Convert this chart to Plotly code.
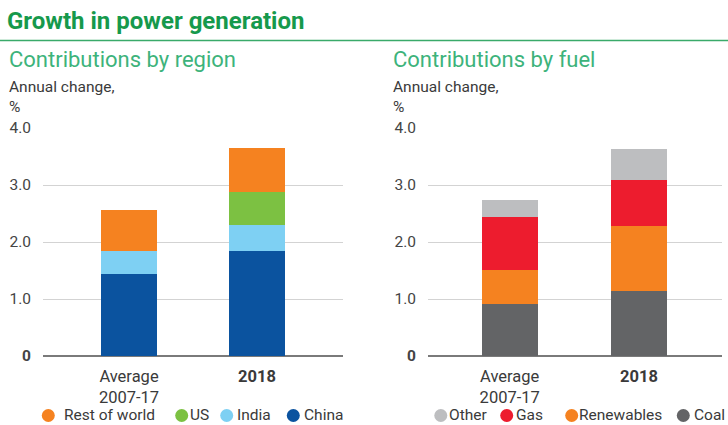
import plotly.graph_objects as go

# ---- data ----
categories = ["Average<br>2007-17", "<b>2018</b>"]

region_names = ["China", "India", "US", "Rest of world"]
china = [1.44, 1.85]
india = [0.40, 0.44]
us = [0.00, 0.58]
rest_of_world = [0.73, 0.78]

fuel_names = ["Coal", "Renewables", "Gas", "Other"]
coal = [0.91, 1.14]
renewables = [0.60, 1.14]
gas = [0.92, 0.81]
other = [0.31, 0.54]

ytick_vals = [0, 1, 2, 3, 4]
ytick_text = ["<b>0</b>", "1.0", "2.0", "3.0", "4.0"]

# ---- styles ----
FONT = "Roboto, Liberation Sans, Arial, sans-serif"
region_colors = ["#0B539F", "#7ED0F3", "#7CC142", "#F58220"]
fuel_colors = ["#636466", "#F58220", "#ED1C2E", "#BDBEC0"]

fig = go.Figure()

for name, vals, col in zip(region_names, [china, india, us, rest_of_world], region_colors):
    fig.add_trace(go.Bar(x=categories, y=vals, name=name, marker_color=col,
                         marker_line_width=0, width=0.4375, showlegend=False,
                         xaxis="x", yaxis="y"))

for name, vals, col in zip(fuel_names, [coal, renewables, gas, other], fuel_colors):
    fig.add_trace(go.Bar(x=categories, y=vals, name=name, marker_color=col,
                         marker_line_width=0, width=0.433, showlegend=False,
                         xaxis="x2", yaxis="y2"))

axis_y = dict(range=[0, 4.0], tickvals=ytick_vals, ticktext=ytick_text,
              showgrid=True, gridcolor="#D3D3D3", gridwidth=1,
              zeroline=True, zerolinecolor="#7A7A7A", zerolinewidth=2,
              showline=False, ticks="", ticklabelstandoff=11,
              tickfont=dict(family=FONT, size=15.5, color="#444444"))
axis_x = dict(showgrid=False, showline=False, ticks="", ticklabelstandoff=8,
              tickfont=dict(family=FONT, size=16.5, color="#3A3A3A"))

fig.update_layout(
    width=728, height=425,
    margin=dict(l=43, r=6, t=128, b=69),
    paper_bgcolor="white", plot_bgcolor="white",
    barmode="stack",
    bargap=0,
    showlegend=False,
    font=dict(family=FONT, color="#333333"),
    xaxis=dict(domain=[0, 0.4418], range=[-0.672, 1.672], **axis_x),
    yaxis=dict(anchor="x", **axis_y),
    xaxis2=dict(domain=[0.567, 1.0], range=[-0.632, 1.642], anchor="y2", **axis_x),
    yaxis2=dict(anchor="x2", **axis_y),
    title=dict(text="<b>Growth in power generation</b>", xref="container", yref="container",
               x=7/728, y=1 - 21/425, xanchor="left", yanchor="middle",
               font=dict(family=FONT, size=24, color="#16994C")),
)

def px_x(p):
    return (p - 43) / 679

def px_y(p):
    return (356 - p) / 228

# green rule under title
fig.add_shape(type="line", xref="paper", yref="paper",
              x0=px_x(0), x1=px_x(728), y0=px_y(40.5), y1=px_y(40.5),
              line=dict(color="#3AAA6A", width=1.5))

for xl, sub in [(9, "Contributions by region"), (393, "Contributions by fuel")]:
    fig.add_annotation(text=sub, xref="paper", yref="paper", x=px_x(xl - 2), y=px_y(60),
                       xanchor="left", yanchor="middle", showarrow=False,
                       font=dict(family=FONT, size=22, color="#3DB37B"))
    fig.add_annotation(text="Annual change,<br>%", xref="paper", yref="paper",
                       x=px_x(xl - 2), y=px_y(97), xanchor="left", yanchor="middle",
                       showarrow=False, align="left",
                       font=dict(family=FONT, size=15.5, color="#3A3A3A"))

# legend rows (layout positions of legend entries, in pixels)
legend_y = 414.5
left_legend = list(zip(["Rest of world", "US", "India", "China"],
                       [region_colors[3], region_colors[2], region_colors[1], region_colors[0]],
                       [48.3, 181.7, 226.7, 293.3], [64, 190, 237, 304]))
right_legend = list(zip(["Other", "Gas", "Renewables", "Coal"],
                        [fuel_colors[3], fuel_colors[2], fuel_colors[1], fuel_colors[0]],
                        [440.8, 506.7, 571.7, 683.3], [449, 516, 579, 694]))
for label, col, cx, tx in left_legend + right_legend:
    fig.add_shape(type="circle", xref="paper", yref="paper",
                  xsizemode="pixel", ysizemode="pixel",
                  xanchor=px_x(cx), yanchor=px_y(legend_y + 1),
                  x0=-6.5, x1=6.5, y0=-6.5, y1=6.5,
                  fillcolor=col, line=dict(width=0))
    fig.add_annotation(text=label, xref="paper", yref="paper",
                       x=px_x(tx - 1), y=px_y(legend_y), xanchor="left", yanchor="middle",
                       showarrow=False, borderpad=0,
                       font=dict(family=FONT, size=15.5, color="#3A3A3A"))

fig.write_html("out.html",
               config={"displayModeBar": False},
               post_script="document.body.style.margin='0';document.body.style.padding='0';")
